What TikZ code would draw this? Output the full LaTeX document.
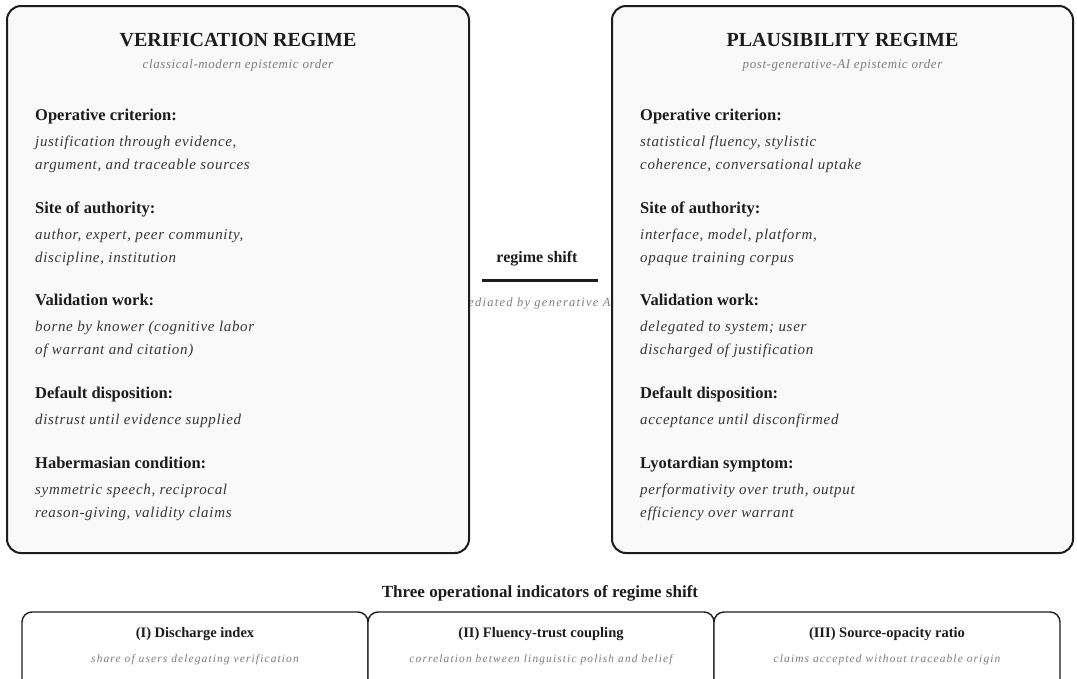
\documentclass[tikz,border=0pt]{standalone}
\usepackage{fontspec}
\setmainfont{Liberation Serif}
\usetikzlibrary{positioning}
\definecolor{inkblack}{RGB}{28,28,28}
\definecolor{bodygrey}{RGB}{55,55,55}
\definecolor{subgrey}{RGB}{125,125,125}
\definecolor{panelfill}{RGB}{249,249,249}

\begin{document}
\begin{tikzpicture}[x=1pt, y=-1pt,
    panel/.style={draw=inkblack, line width=2pt, rounded corners=14pt, fill=panelfill,
        inner sep=0pt, minimum width=462pt, minimum height=547pt},
    indicator/.style={draw=inkblack, line width=1.4pt, rounded corners=10pt, fill=white,
        inner sep=0pt, minimum width=346pt, minimum height=100pt},
    title/.style={anchor=base, inner sep=0pt, font=\bfseries\fontsize{20}{22}\selectfont, text=inkblack},
    subtitle/.style={anchor=base, inner sep=0pt, font=\itshape\fontsize{13}{15}\selectfont\addfontfeature{LetterSpace=4.5}, text=subgrey},
    head/.style={anchor=base west, inner sep=0pt, font=\bfseries\fontsize{16.5}{18}\selectfont, text=inkblack},
    body/.style={anchor=north west, inner sep=0pt, align=left, font=\itshape\fontsize{15}{23}\selectfont\addfontfeature{LetterSpace=4.5}, text=bodygrey},
    indhead/.style={anchor=base, inner sep=0pt, font=\bfseries\fontsize{14.5}{16}\selectfont, text=inkblack},
    indsub/.style={anchor=base, inner sep=0pt, font=\itshape\fontsize{11.4}{13}\selectfont\addfontfeature{LetterSpace=10}, text=subgrey}]
    \clip (0,0) rectangle (1077,678);

    % Shift between the regimes (partly hidden by the panels)
    \node[anchor=base, inner sep=0pt, font=\bfseries\fontsize{16}{18}\selectfont, text=inkblack] (shift) at (537,262) {regime shift};
    \node[subtitle, font=\itshape\fontsize{12.5}{14}\selectfont\addfontfeature{LetterSpace=10}] (shiftsub) at (537,306) {mediated by generative AI};
    \coordinate (shiftL) at (482,280);
    \coordinate (shiftR) at (598,280);
    \draw[inkblack, line width=3pt] (shiftL) -- (shiftR);

    % Panels
    \node[panel] (verif) at (238,279.5) {};
    \node[panel, minimum width=461pt] (plaus) at (842.5,279.5) {};

    \node[title] (verifT) at (238,46) {VERIFICATION REGIME};
    \node[subtitle] (verifS) at (238,68) {classical-modern epistemic order};
    \node[title] (plausT) at (842.5,46) {PLAUSIBILITY REGIME};
    \node[subtitle] (plausS) at (842.5,68) {post-generative-AI epistemic order};

    % Verification criteria
    \foreach \yy/\lab/\txt [count=\i] in {
        120/{Operative criterion:}/{justification through evidence,\\argument, and traceable sources},
        213/{Site of authority:}/{author, expert, peer community,\\discipline, institution},
        305/{Validation work:}/{borne by knower (cognitive labor\\of warrant and citation)},
        398/{Default disposition:}/{distrust until evidence supplied},
        468/{Habermasian condition:}/{symmetric speech, reciprocal\\reason-giving, validity claims}} {
        \node[head] (vh\i) at (35,\yy) {\lab};
        \node[body] (vb\i) at (35,\yy+9.9) {\strut\txt};
    }

    % Plausibility criteria
    \foreach \yy/\lab/\txt [count=\i] in {
        120/{Operative criterion:}/{statistical fluency, stylistic\\coherence, conversational uptake},
        213/{Site of authority:}/{interface, model, platform,\\opaque training corpus},
        305/{Validation work:}/{delegated to system; user\\discharged of justification},
        398/{Default disposition:}/{acceptance until disconfirmed},
        468/{Lyotardian symptom:}/{performativity over truth, output\\efficiency over warrant}} {
        \node[head] (ph\i) at (640,\yy) {\lab};
        \node[body] (pb\i) at (640,\yy+9.9) {\strut\txt};
    }

    % Indicators
    \node[anchor=base, inner sep=0pt, font=\bfseries\fontsize{17}{19}\selectfont, text=inkblack] (indT) at (540,597) {Three operational indicators of regime shift};
    \foreach \xx/\lab/\txt [count=\i] in {
        195/{(I) Discharge index}/{share of users delegating verification},
        541/{(II) Fluency-trust coupling}/{correlation between linguistic polish and belief},
        887/{(III) Source-opacity ratio}/{claims accepted without traceable origin}} {
        \node[indicator] (ind\i) at (\xx,662) {};
        \node[indhead] (indh\i) at (\xx,637) {\lab};
        \node[indsub] (inds\i) at (\xx,662) {\txt};
    }
\end{tikzpicture}
\end{document}
